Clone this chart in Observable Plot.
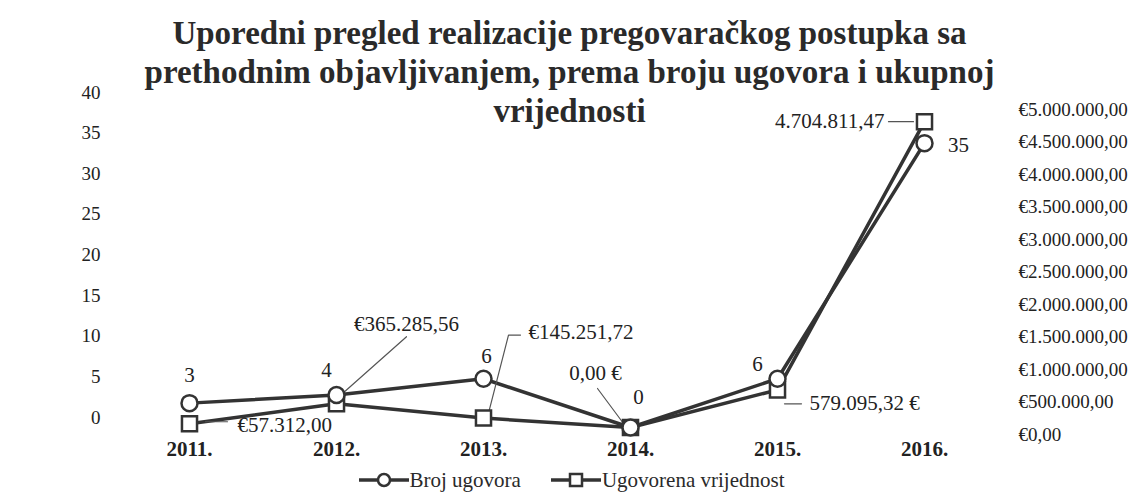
<!DOCTYPE html>
<html>
<head>
<meta charset="utf-8">
<script src="https://cdn.jsdelivr.net/npm/d3@7"></script>
<script src="https://cdn.jsdelivr.net/npm/@observablehq/plot@0.6"></script>
<style>
  html, body { margin: 0; padding: 0; background: #fff; }
  body { width: 1139px; height: 502px; overflow: hidden; position: relative; font-family: "Liberation Serif", "Times New Roman", serif; color: #222; }
  #title { position: absolute; left: 0; top: 14px; width: 1139px; text-align: center; font-weight: bold; font-size: 33px; line-height: 39px; color: #2a2a2a; z-index: 2; }
  #chart { position: absolute; left: 0; top: 0; }
  #legend { position: absolute; left: 0; top: 467px; width: 1139px; display: flex; justify-content: center; align-items: center; font-size: 21px; line-height: 26px; color: #2a2a2a; padding-left: 4px; box-sizing: border-box; }
  .item { display: flex; align-items: center; margin: 0 15px; }
  .item svg { margin-right: 1px; }
</style>
</head>
<body>
<div id="title">Uporedni pregled realizacije pregovaračkog postupka sa<br>prethodnim objavljivanjem, prema broju ugovora i ukupnoj<br>vrijednosti</div>
<div id="chart"></div>
<div id="legend"></div>
<script>
// ---- data ----
const years = ["2011.", "2012.", "2013.", "2014.", "2015.", "2016."];
const brojUgovora = [3, 4, 6, 0, 6, 35];
const vrijednost = [57312.00, 365285.56, 145251.72, 0, 579095.32, 4704811.47];
const vrijednostLabels = ["€57.312,00", "€365.285,56", "€145.251,72", "0,00 €", "579.095,32 €", "4.704.811,47"];
const leftTicks = [0, 5, 10, 15, 20, 25, 30, 35, 40];
const rightTicks = [0, 500000, 1000000, 1500000, 2000000, 2500000, 3000000, 3500000, 4000000, 4500000, 5000000];
const seriesNames = ["Broj ugovora", "Ugovorena vrijednost"];

const MAXB = 40, MAXV = 5000000;
const toLeft = v => v / MAXV * MAXB;
const euro = d3.formatLocale({decimal: ",", thousands: ".", grouping: [3], currency: ["€", ""]}).format("$,.2f");

const rows = years.map((year, i) => ({year, broj: brojUgovora[i], vrijednost: vrijednost[i], vs: toLeft(vrijednost[i])}));

const INK = "#333";
const leader = pts => ({draw(ctx) { ctx.moveTo(pts[0][0], pts[0][1]); for (const p of pts.slice(1)) ctx.lineTo(p[0], p[1]); }});
const lead = (i, key, pts) => Plot.vector([rows[i]], {x: "year", y: key, length: 1, rotate: 0, anchor: "start", shape: leader(pts), stroke: "#555", strokeWidth: 1.2, fill: "none"});
const lbl = (i, key, text, o) => Plot.text([rows[i]], {x: "year", y: key, text: () => text, fontSize: 21, fill: "#222", ...o});

const chart = Plot.plot({
  width: 1139,
  height: 466,
  marginTop: 102,
  marginBottom: 39,
  marginLeft: 113,
  marginRight: 140,
  style: {fontFamily: '"Liberation Serif", "Times New Roman", serif', fontSize: "19px", color: "#222", background: "transparent", overflow: "visible"},
  x: {type: "point", domain: years, padding: 0.5, axis: null},
  y: {domain: [0, 40], axis: null},
  marks: [
    Plot.axisY(leftTicks, {anchor: "left", tickSize: 0, tickPadding: 13, dy: -10, label: null, fontSize: 19}),
    Plot.axisY(rightTicks.map(toLeft), {anchor: "right", tickSize: 0, tickPadding: 19, dy: 7, label: null, fontSize: 19,
      tickFormat: d => euro(Math.round(d * MAXV / MAXB))}),
    Plot.axisX({tickSize: 0, tickPadding: 14, fontSize: 21, fontWeight: "bold", label: null}),
    Plot.line(rows, {x: "year", y: "vs", stroke: INK, strokeWidth: 3.5}),
    Plot.line(rows, {x: "year", y: "broj", stroke: INK, strokeWidth: 3.5}),
    // leader lines
    lead(0, "vs", [[16, -2], [38, -2]]),
    lead(1, "vs", [[8, -12], [70, -67]]),
    lead(2, "vs", [[5, -5], [25, -83], [37, -83]]),
    lead(3, "vs", [[-33, -39], [-7, -4]]),
    lead(4, "vs", [[7, 14], [24, 14]]),
    lead(5, "vs", [[-36, 0], [-11, 0]]),
    Plot.dot(rows, {x: "year", y: "vs", symbol: "square", r: 8.5, fill: "white", stroke: INK, strokeWidth: 2.5}),
    Plot.dot(rows, {x: "year", y: "broj", r: 8, fill: "white", stroke: INK, strokeWidth: 2.5}),
    // count labels
    lbl(0, "broj", String(brojUgovora[0]), {dy: -28}),
    lbl(1, "broj", String(brojUgovora[1]), {dx: -10, dy: -25}),
    lbl(2, "broj", String(brojUgovora[2]), {dx: 3, dy: -22}),
    lbl(3, "broj", String(brojUgovora[3]), {dx: 8, dy: -30}),
    lbl(4, "broj", String(brojUgovora[4]), {dx: -20, dy: -14}),
    lbl(5, "broj", String(brojUgovora[5]), {dx: 34, dy: 2}),
    // value labels
    lbl(0, "vs", vrijednostLabels[0], {textAnchor: "start", dx: 48, dy: 1}),
    lbl(1, "vs", vrijednostLabels[1], {dx: 70, dy: -79}),
    lbl(2, "vs", vrijednostLabels[2], {textAnchor: "start", dx: 45, dy: -86}),
    lbl(3, "vs", vrijednostLabels[3], {dx: -35, dy: -54}),
    lbl(4, "vs", vrijednostLabels[4], {textAnchor: "start", dx: 32, dy: 13}),
    lbl(5, "vs", vrijednostLabels[5], {textAnchor: "end", dx: -40, dy: 0})
  ]
});
document.getElementById("chart").append(chart);

// legend
const legend = document.getElementById("legend");
const sym = (kind) => {
  const mark = kind === "circle"
    ? `<circle cx="25" cy="11" r="6" fill="white" stroke="${INK}" stroke-width="2.5"/>`
    : `<rect x="19" y="5" width="12" height="12" fill="white" stroke="${INK}" stroke-width="2.5"/>`;
  return `<svg width="50" height="22"><line x1="0" x2="50" y1="11" y2="11" stroke="${INK}" stroke-width="3.5"/>${mark}</svg>`;
};
legend.innerHTML = `<div class="item">${sym("circle")}<span>${seriesNames[0]}</span></div><div class="item">${sym("square")}<span>${seriesNames[1]}</span></div>`;
</script>
</body>
</html>
